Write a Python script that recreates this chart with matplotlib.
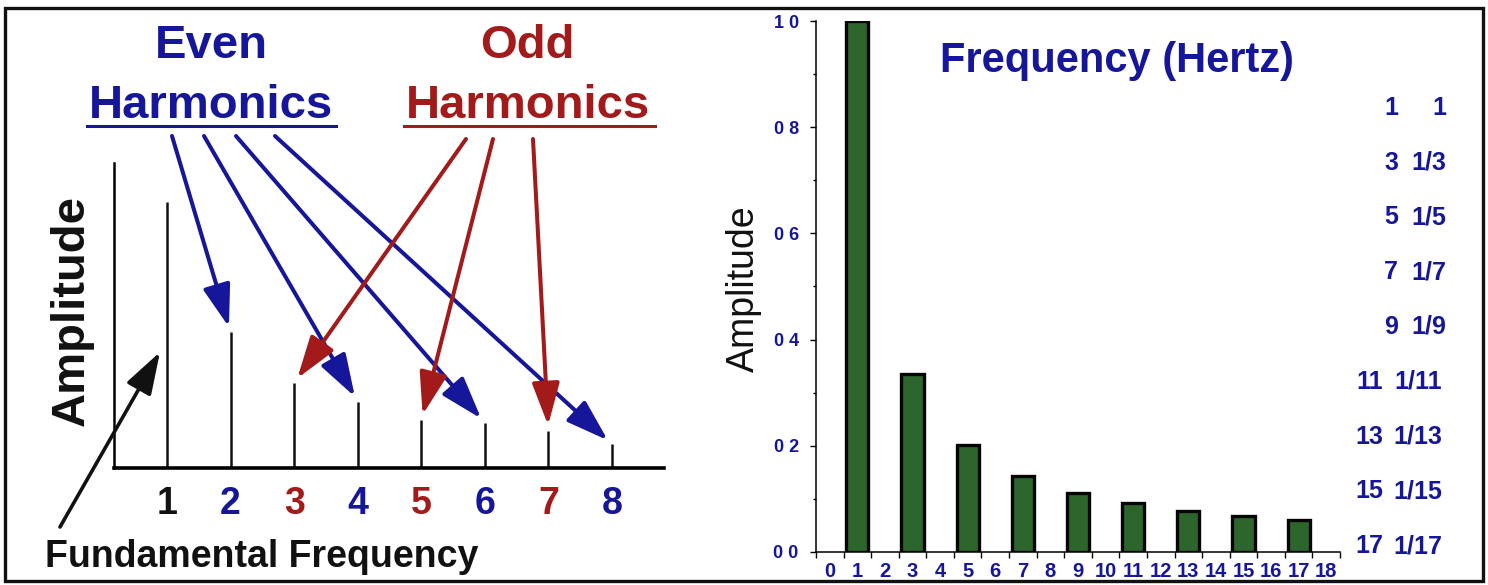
import matplotlib
matplotlib.use("Agg")
import matplotlib.pyplot as plt
from matplotlib import font_manager
from matplotlib.lines import Line2D
from matplotlib.patches import Rectangle
from matplotlib.ticker import MultipleLocator, FixedLocator

# left panel: idealised harmonic spectrum
harmonics = [1, 2, 3, 4, 5, 6, 7, 8]
harmonic_amps = [1.0, 0.51, 0.32, 0.25, 0.18, 0.17, 0.14, 0.09]
harmonic_colors = ["black", "blue", "red", "blue", "red", "blue", "red", "blue"]
even_targets = [2, 4, 6, 8]
odd_targets = [3, 5, 7]

# right panel: square wave spectrum
freqs = [1, 3, 5, 7, 9, 11, 13, 15, 17]
amps = [1.0, 0.336, 0.202, 0.144, 0.112, 0.092, 0.078, 0.068, 0.060]
freq_ticks = list(range(19))
amp_ticks = [0.0, 0.2, 0.4, 0.6, 0.8, 1.0]
amp_tick_labels = ["0 0", "0 2", "0 4", "0 6", "0 8", "1 0"]
table_n = ["1", "3", "5", "7", "9", "11", "13", "15", "17"]
table_frac = ["1", "1/3", "1/5", "1/7", "1/9", "1/11", "1/13", "1/15", "1/17"]

W, H = 1488, 585
BLUE = "#16169a"
RED = "#a31a1a"
GREEN = "#2d662d"
COLORS = {"black": "#111111", "blue": BLUE, "red": RED}

available = {f.name for f in font_manager.fontManager.ttflist}
BOLD = "Liberation Sans" if "Liberation Sans" in available else "DejaVu Sans"
NARROW = "Liberation Sans Narrow" if "Liberation Sans Narrow" in available else BOLD


def fx(x):
    return x / W


def fy(y):
    return 1 - y / H


fig = plt.figure(figsize=(W / 100, H / 100), dpi=100)

# ---------- left panel ----------
x0, unit_x = 103.4, 63.57
base_y, unit_y = 468, 266
axl = fig.add_axes([fx(x0), fy(base_y), 9 * unit_x / W, 1.2 * unit_y / H])
axl.set_xlim(0, 9)
axl.set_ylim(0, 1.2)
axl.patch.set_alpha(0)
for s in ["top", "right"]:
    axl.spines[s].set_visible(False)
axl.spines["left"].set_position(("data", (114 - x0) / unit_x))
axl.spines["left"].set_bounds(0, (base_y - 163) / unit_y)
axl.spines["left"].set_linewidth(1.8)
axl.spines["bottom"].set_bounds((114 - x0) / unit_x, (664 - x0) / unit_x)
axl.spines["bottom"].set_linewidth(2.6)
axl.set_yticks([])
axl.vlines(harmonics, 0, harmonic_amps, color="#111111", lw=1.8)
axl.set_xticks(harmonics, [str(h) for h in harmonics])
axl.tick_params(axis="x", length=0, pad=13, labelsize=27)
for lab, c in zip(axl.get_xticklabels(), harmonic_colors):
    lab.set_color(COLORS[c])
    lab.set_fontweight("bold")
    lab.set_fontfamily(BOLD)

head = "-|>,head_length=2.6,head_width=0.85"
blue_tails = [172, 204, 236, 275]
red_tails = [466, 493, 533]
for h, tx in zip(even_targets, blue_tails):
    axl.annotate("", xy=(h, harmonic_amps[h - 1]), xytext=(tx, H - 136),
                 textcoords="figure pixels", annotation_clip=False,
                 arrowprops=dict(arrowstyle=head, color=BLUE, lw=2.9,
                                 shrinkA=0, shrinkB=4, mutation_scale=10))
for h, tx in zip(odd_targets, red_tails):
    axl.annotate("", xy=(h, harmonic_amps[h - 1]), xytext=(tx, H - 139),
                 textcoords="figure pixels", annotation_clip=False,
                 arrowprops=dict(arrowstyle=head, color=RED, lw=2.9,
                                 shrinkA=0, shrinkB=4, mutation_scale=10))
axl.annotate("", xy=(160, H - 352), xycoords="figure pixels",
             xytext=(60, H - 527), textcoords="figure pixels",
             arrowprops=dict(arrowstyle=head, color="#111111", lw=2.6,
                             shrinkA=0, shrinkB=0, mutation_scale=10))

fig.text(fx(211), fy(58), "Even", color=BLUE, fontsize=34, fontweight="bold",
         family=BOLD, ha="center", va="baseline")
fig.text(fx(211), fy(118), "Harmonics", color=BLUE, fontsize=34, fontweight="bold",
         family=BOLD, ha="center", va="baseline")
fig.text(fx(527), fy(58), "Odd", color=RED, fontsize=34, fontweight="bold",
         family=BOLD, ha="center", va="baseline")
fig.text(fx(528), fy(118), "Harmonics", color=RED, fontsize=34, fontweight="bold",
         family=BOLD, ha="center", va="baseline")
fig.add_artist(Line2D([fx(87), fx(336)], [fy(126), fy(126)], color=BLUE, lw=2.2))
fig.add_artist(Line2D([fx(404), fx(655)], [fy(126), fy(126)], color=RED, lw=2.2))

fig.text(fx(45), fy(567), "Fundamental Frequency", color="#111111", fontsize=27,
         fontweight="bold", family=BOLD, ha="left", va="baseline")
fig.text(fx(84), fy(310), "Amplitude", color="#111111", fontsize=34, fontweight="bold",
         family=BOLD, rotation=90, rotation_mode="anchor", ha="center", va="baseline")

# ---------- right panel ----------
axr = fig.add_axes([fx(816), fy(552), 524 / W, 531 / H])
axr.bar(freqs, amps, width=0.8, color=GREEN, edgecolor="#050505", lw=2.4)
axr.set_xlim(-0.5, 18.5)
axr.set_ylim(0, 1.0)
axr.patch.set_alpha(0)
for s in ["top", "right"]:
    axr.spines[s].set_visible(False)
for s in ["left", "bottom"]:
    axr.spines[s].set_linewidth(1.1)

axr.set_yticks(amp_ticks, amp_tick_labels)
axr.yaxis.set_minor_locator(MultipleLocator(0.1))
axr.tick_params(axis="y", which="major", length=4.5, width=1, pad=8,
                labelsize=13, labelcolor=BLUE)
axr.tick_params(axis="y", which="minor", length=2.5, width=1)
for lab in axr.get_yticklabels():
    lab.set_fontweight("bold")
    lab.set_fontfamily(NARROW)

axr.xaxis.set_major_locator(FixedLocator([t - 0.5 for t in freq_ticks] + [18.5]))
axr.xaxis.set_major_formatter(plt.NullFormatter())
axr.set_xticks(freq_ticks, [str(t) for t in freq_ticks], minor=True)
axr.tick_params(axis="x", which="major", length=4, width=1)
axr.tick_params(axis="x", which="minor", length=0, pad=7, labelsize=14.5, labelcolor=BLUE)
for lab in axr.get_xticklabels(minor=True):
    lab.set_fontweight("bold")
    lab.set_fontfamily(NARROW)

fig.text(fx(1117), fy(72), "Frequency (Hertz)", color=BLUE, fontsize=30,
         fontweight="bold", family=BOLD, ha="center", va="baseline")
fig.text(fx(754), fy(289), "Amplitude", color="#111111", fontsize=27, family=BOLD,
         rotation=90, rotation_mode="anchor", ha="center", va="baseline")

for i, (n, frac) in enumerate(zip(table_n, table_frac)):
    y = 108 + i * 54.75
    wide = len(n) > 1
    fig.text(fx(1383 if wide else 1398), fy(y), n, color=BLUE, fontsize=18,
             fontweight="bold", family=NARROW, ha="right", va="center")
    fig.text(fx(1442 if wide else 1446), fy(y), frac, color=BLUE, fontsize=18,
             fontweight="bold", family=NARROW, ha="right", va="center")

# outer frame
fig.add_artist(Rectangle((fx(5), fy(581)), fx(1478), 573 / H, fill=False,
                         edgecolor="#111111", lw=2.4))

fig.savefig("out.png", dpi=100)
